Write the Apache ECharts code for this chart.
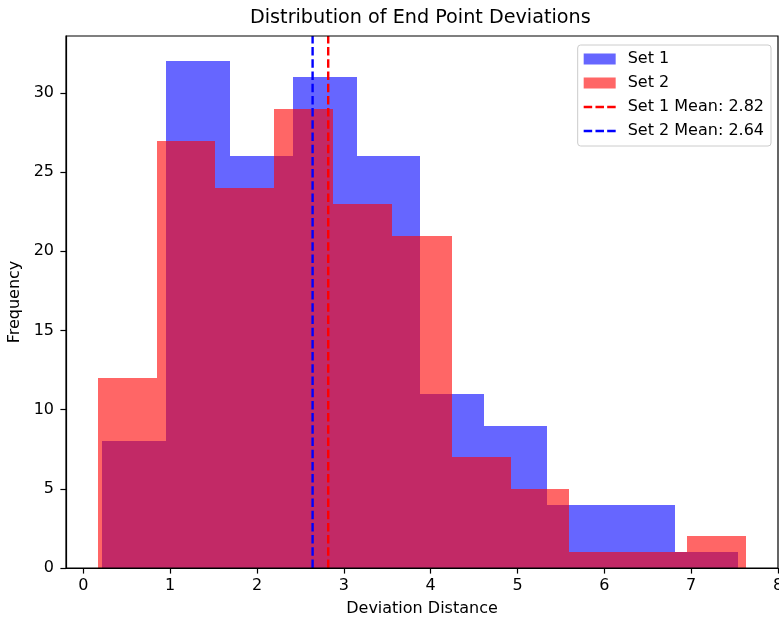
<!DOCTYPE html>
<html>
<head>
<meta charset="utf-8">
<title>Distribution of End Point Deviations</title>
<script src="https://cdn.jsdelivr.net/npm/echarts@6/dist/echarts.min.js"></script>
<style>
  html, body { margin: 0; padding: 0; background: #fff; }
  #chart { width: 779px; height: 619px; }
</style>
</head>
<body>
<div id="chart"></div>
<script>
// Histogram bin edges and counts for each set
var set1Edges = [0.22, 0.95, 1.69, 2.42, 3.15, 3.88, 4.61, 5.34, 6.08, 6.81, 7.54];
var set1Counts = [8, 32, 26, 31, 26, 11, 9, 4, 4, 1];
var set2Edges = [0.17, 0.85, 1.52, 2.20, 2.88, 3.56, 4.24, 4.92, 5.59, 6.27, 6.95, 7.63];
var set2Counts = [12, 27, 24, 29, 23, 21, 7, 5, 1, 1, 2];

// Mean values of each set
var set1Mean = 2.82;
var set2Mean = 2.64;

// Axis tick labels
var xTicks = [0, 1, 2, 3, 4, 5, 6, 7, 8];
var yTicks = [0, 5, 10, 15, 20, 25, 30];

var X_MIN = -0.2, X_MAX = 8.0, Y_MAX = 33.6;
var FONT = 'DejaVu Sans';
var FS = 16;

function binData(edges, counts) {
  var out = [];
  for (var i = 0; i < counts.length; i++) {
    out.push([edges[i], edges[i + 1], counts[i]]);
  }
  return out;
}

// One rectangle per bin, snapped to whole pixels so neighbouring bins meet cleanly
function renderBin(params, api) {
  var p0 = api.coord([api.value(0), api.value(2)]);
  var p1 = api.coord([api.value(1), 0]);
  var x0 = Math.round(p0[0]), x1 = Math.round(p1[0]);
  var y0 = Math.round(p0[1]), y1 = Math.round(p1[1]);
  return {
    type: 'rect',
    shape: { x: x0, y: y0, width: x1 - x0, height: y1 - y0 },
    style: { fill: api.visual('color') }
  };
}

// Legend icons: a solid swatch and a three-dash line, both padded to the same box
var swatchIcon = 'path://M0,0h32v11h-32zM39,0';
var dashIcon = 'path://M0,0M39,11M0,4.3h8.5v2.4h-8.5zM11.8,4.3h8.5v2.4h-8.5zM23.5,4.3h8.5v2.4h-8.5z';

var chart = echarts.init(document.getElementById('chart'), null, { renderer: 'canvas' });

chart.setOption({
  animation: false,
  backgroundColor: '#ffffff',
  textStyle: { fontFamily: FONT },
  title: {
    text: 'Distribution of End Point Deviations',
    left: 250,
    top: 9,
    padding: 0,
    textStyle: { fontFamily: FONT, fontSize: 19.2, fontWeight: 'normal', color: '#000' }
  },
  grid: {
    left: 66, top: 36, width: 712, height: 532,
    outerBoundsMode: 'none',
    containLabel: false,
    show: true, borderColor: '#000', borderWidth: 1.2, backgroundColor: 'transparent', z: 10
  },
  legend: {
    orient: 'vertical',
    right: 8,
    top: 45,
    padding: [6, 7, 7, 6],
    itemGap: 8,
    itemWidth: 39,
    itemHeight: 11,
    borderColor: '#cccccc',
    borderWidth: 1,
    borderRadius: 3,
    backgroundColor: 'rgba(255,255,255,0.8)',
    itemStyle: { borderWidth: 0 },
    textStyle: { fontFamily: FONT, fontSize: FS, color: '#000' },
    data: [
      { name: 'Set 1', icon: swatchIcon },
      { name: 'Set 2', icon: swatchIcon },
      { name: 'Set 1 Mean: 2.82', icon: dashIcon },
      { name: 'Set 2 Mean: 2.64', icon: dashIcon }
    ]
  },
  xAxis: {
    type: 'value',
    min: X_MIN,
    max: X_MAX,
    z: 10,
    name: 'Deviation Distance',
    nameLocation: 'middle',
    nameGap: 33,
    nameTextStyle: { fontFamily: FONT, fontSize: FS, color: '#000' },
    axisLine: { show: true, onZero: false, lineStyle: { color: '#000', width: 1.2 } },
    axisTick: { show: true, length: 5.6, customValues: xTicks, lineStyle: { color: '#000', width: 1.2 } },
    axisLabel: { customValues: xTicks, margin: 10, fontFamily: FONT, fontSize: FS, color: '#000' },
    splitLine: { show: false }
  },
  yAxis: {
    type: 'value',
    min: 0,
    max: Y_MAX,
    z: 10,
    name: 'Frequency',
    nameLocation: 'middle',
    nameGap: 35,
    nameTextStyle: { fontFamily: FONT, fontSize: FS, color: '#000' },
    axisLine: { show: true, onZero: false, lineStyle: { color: '#000', width: 1.2 } },
    axisTick: { show: true, length: 5.6, customValues: yTicks, lineStyle: { color: '#000', width: 1.2 } },
    axisLabel: { customValues: yTicks, margin: 12, fontFamily: FONT, fontSize: FS, color: '#000' },
    splitLine: { show: false }
  },
  series: [
    {
      name: 'Set 1',
      type: 'custom',
      renderItem: renderBin,
      clip: true,
      color: 'rgba(0,0,255,0.6)',
      encode: { x: [0, 1], y: 2 },
      data: binData(set1Edges, set1Counts)
    },
    {
      name: 'Set 2',
      type: 'custom',
      renderItem: renderBin,
      clip: true,
      color: 'rgba(255,0,0,0.6)',
      encode: { x: [0, 1], y: 2 },
      data: binData(set2Edges, set2Counts)
    },
    {
      name: 'Set 1 Mean: 2.82',
      type: 'line',
      color: '#ff0000',
      symbol: 'none',
      silent: true,
      lineStyle: { color: '#ff0000', width: 2.4, type: [8.5, 3.7] },
      data: [[set1Mean, 0], [set1Mean, Y_MAX]]
    },
    {
      name: 'Set 2 Mean: 2.64',
      type: 'line',
      color: '#0000ff',
      symbol: 'none',
      silent: true,
      lineStyle: { color: '#0000ff', width: 2.4, type: [8.5, 3.7] },
      data: [[set2Mean, 0], [set2Mean, Y_MAX]]
    }
  ]
});
</script>
</body>
</html>
